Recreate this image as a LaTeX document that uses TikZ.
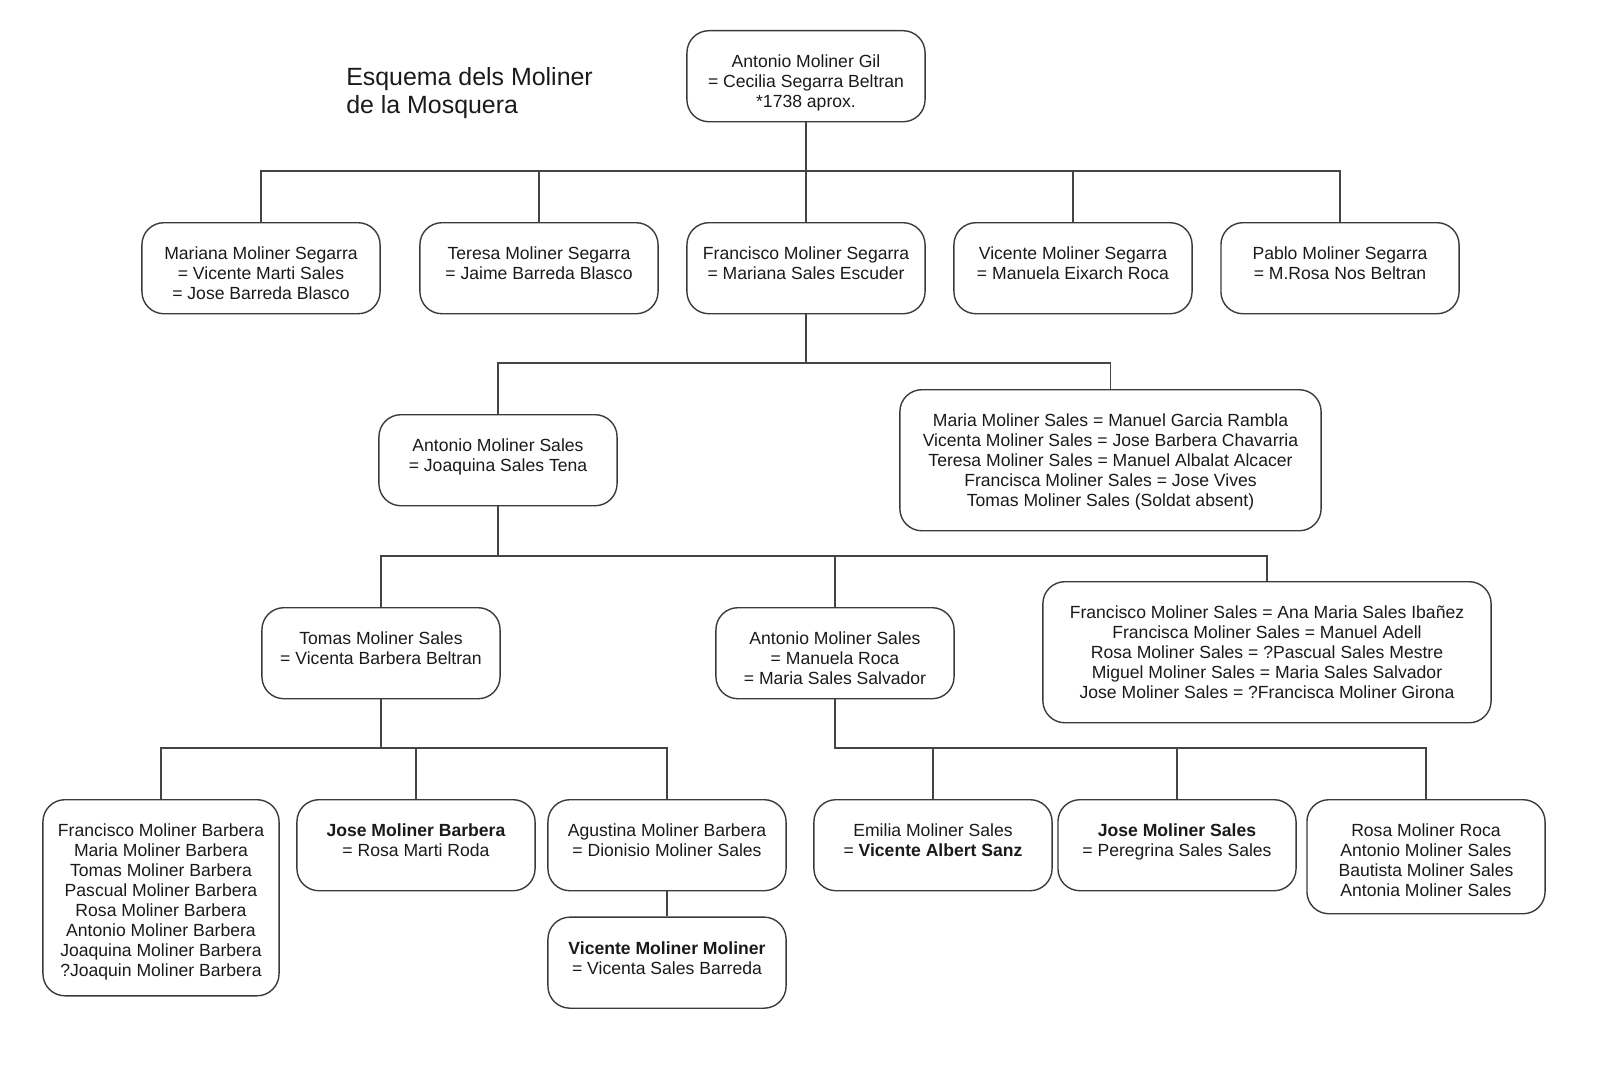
\documentclass[tikz,border=0pt]{standalone}
\usepackage{fontspec}
\setmainfont{Liberation Sans}
\usetikzlibrary{positioning}

\definecolor{boxgray}{HTML}{3A3A3A}
\definecolor{linegray}{HTML}{444444}
\definecolor{txtgray}{HTML}{1A1A1A}

% espai damunt de la primera linia de cada caixa
\newcommand{\toproom}{\rule{0pt}{0.23in}}

\tikzset{
  person/.style={draw=boxgray, line width=1pt, rounded corners=0.22in,
    minimum width=2.38in, align=center, anchor=north, inner xsep=0pt,
    inner ysep=0.14in, text depth=#1},
  person/.default=0pt,
  link/.style={draw=linegray, line width=0.8pt},
  title/.style={font=\fontsize{18pt}{0.28in}\selectfont, align=left,
    anchor=north west, inner sep=0pt}
}

\begin{document}
\begin{tikzpicture}[x=0.01in, y=-0.01in, every node/.style={font=\fontsize{12.7pt}{0.2in}\selectfont, text=txtgray}]
  \useasboundingbox (0,0) rectangle (1600,1074);

  \node[title] (title) at (346,67) {Esquema dels Moliner\\de la Mosquera};

  % generacio 1
  \node[person] (root) at (806,30) {\toproom Antonio Moliner Gil\\= Cecilia Segarra Beltran\\*1738 aprox.};

  % fills
  \node[person] (mariana) at (261,222) {\toproom Mariana Moliner Segarra\\= Vicente Marti Sales\\= Jose Barreda Blasco};
  \node[person=0.2in] (teresa) at (539,222) {\toproom Teresa Moliner Segarra\\= Jaime Barreda Blasco};
  \node[person=0.2in] (francisco) at (806,222) {\toproom Francisco Moliner Segarra\\= Mariana Sales Escuder};
  \node[person=0.2in] (vicente) at (1073,222) {\toproom Vicente Moliner Segarra\\= Manuela Eixarch Roca};
  \node[person=0.2in] (pablo) at (1340,222) {\toproom Pablo Moliner Segarra\\= M.Rosa Nos Beltran};

  % nets
  \node[person=0.2in] (antonio) at (498,414) {\toproom Antonio Moliner Sales\\= Joaquina Sales Tena};
  \node[person=0.1in, minimum width=4.21in] (fsiblings) at (1110.5,389) {\toproom Maria Moliner Sales = Manuel Garcia Rambla\\Vicenta Moliner Sales = Jose Barbera Chavarria\\Teresa Moliner Sales = Manuel Albalat Alcacer\\Francisca Moliner Sales = Jose Vives\\Tomas Moliner Sales (Soldat absent)};

  % besnets
  \node[person=0.2in] (tomas) at (381,607) {\toproom Tomas Moliner Sales\\= Vicenta Barbera Beltran};
  \node[person] (antoniob) at (835,607) {\toproom Antonio Moliner Sales\\= Manuela Roca\\= Maria Sales Salvador};
  \node[person=0.1in, minimum width=4.48in] (asiblings) at (1267,581) {\toproom Francisco Moliner Sales = Ana Maria Sales Ibañez\\Francisca Moliner Sales = Manuel Adell\\Rosa Moliner Sales = ?Pascual Sales Mestre\\Miguel Moliner Sales = Maria Sales Salvador\\Jose Moliner Sales = ?Francisca Moliner Girona};

  % rebesnets
  \node[person=0.05in, minimum width=2.36in] (tchildren) at (161,799) {\toproom Francisco Moliner Barbera\\Maria Moliner Barbera\\Tomas Moliner Barbera\\Pascual Moliner Barbera\\Rosa Moliner Barbera\\Antonio Moliner Barbera\\Joaquina Moliner Barbera\\?Joaquin Moliner Barbera};
  \node[person=0.2in] (jose) at (416,799) {\toproom\textbf{Jose Moliner Barbera}\\= Rosa Marti Roda};
  \node[person=0.2in] (agustina) at (667,799) {\toproom Agustina Moliner Barbera\\= Dionisio Moliner Sales};
  \node[person=0.2in, below=0.25in of agustina.south] (vicentem) {\toproom\textbf{Vicente Moliner Moliner}\\= Vicenta Sales Barreda};
  \node[person=0.2in] (emilia) at (933,799) {\toproom Emilia Moliner Sales\\= \textbf{Vicente Albert Sanz}};
  \node[person=0.2in] (joses) at (1177,799) {\toproom\textbf{Jose Moliner Sales}\\= Peregrina Sales Sales};
  \node[person=0.03in] (rosa) at (1426,799) {\toproom Rosa Moliner Roca\\Antonio Moliner Sales\\Bautista Moliner Sales\\Antonia Moliner Sales};

  % busos
  \coordinate (bus1) at (806,171);
  \coordinate (bus2) at (806,363);
  \coordinate (bus3) at (498,556);
  \coordinate (bus4) at (381,748);
  \coordinate (bus5) at (835,748);

  \foreach \c in {mariana,teresa,francisco,vicente,pablo}
    \draw[link] (root.south) -- (bus1) -| (\c.north);
  \foreach \c in {antonio,fsiblings}
    \draw[link] (francisco.south) -- (bus2) -| (\c.north);
  \foreach \c in {tomas,antoniob,asiblings}
    \draw[link] (antonio.south) -- (bus3) -| (\c.north);
  \foreach \c in {tchildren,jose,agustina}
    \draw[link] (tomas.south) -- (bus4) -| (\c.north);
  \foreach \c in {emilia,joses,rosa}
    \draw[link] (antoniob.south) -- (bus5) -| (\c.north);
  \draw[link] (agustina) -- (vicentem);
\end{tikzpicture}
\end{document}
